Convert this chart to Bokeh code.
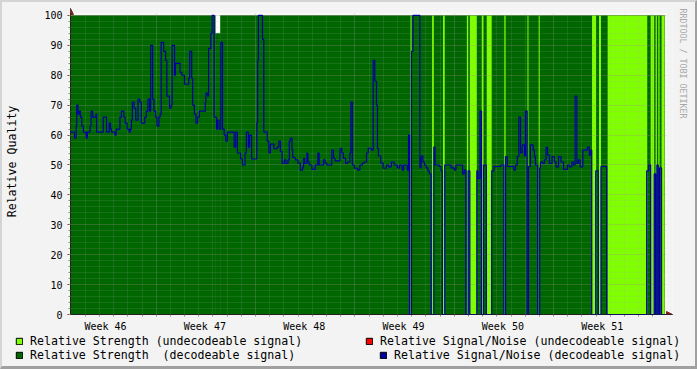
from bokeh.plotting import figure
from bokeh.layouts import column, row
from bokeh.models import (FixedTicker, Legend, LegendItem, Title,
                          Arrow, NormalHead, Range1d)
from bokeh.embed import file_html
from bokeh.resources import INLINE

# ---- time axis (days from the left edge of the graph) ----
week_labels = ["Week 46", "Week 47", "Week 48", "Week 49", "Week 50", "Week 51"]
week_label_day = [2.47, 9.47, 16.47, 23.47, 30.47, 37.47]
week_start_day = [6.04, 13.04, 20.04, 27.04, 34.04, 41.04]
day_ticks = [1.04, 2.04, 3.04, 4.04, 5.04, 6.04, 7.04, 8.04, 9.04, 10.04, 11.04,
             12.04, 13.04, 14.04, 15.04, 16.04, 17.04, 18.04, 19.04, 20.04, 21.04,
             22.04, 23.04, 24.04, 25.04, 26.04, 27.04, 28.04, 29.04, 30.04, 31.04,
             32.04, 33.04, 34.04, 35.04, 36.04, 37.04, 38.04, 39.04, 40.04, 41.04]
t_end = 41.86

y_major = [0, 10, 20, 30, 40, 50, 60, 70, 80, 90, 100]
y_minor = [0, 2, 4, 6, 8, 10, 12, 14, 16, 18, 20, 22, 24, 26, 28, 30, 32, 34, 36, 38,
           40, 42, 44, 46, 48, 50, 52, 54, 56, 58, 60, 62, 64, 66, 68, 70, 72, 74, 76,
           78, 80, 82, 84, 86, 88, 90, 92, 94, 96, 98, 100]
y_top = 100

# ---- Relative Strength (decodeable signal): level steps ----
strength_t = [0.0, 10.20, 10.57]
strength_v = [100, 94, 100]

# ---- Relative Strength (undecodeable signal): intervals ----
und_start = [23.96, 25.48, 26.25, 27.93, 28.14, 28.98, 29.33, 30.57, 32.20, 32.99,
             36.75, 37.24, 37.85, 40.88, 41.23, 41.42, 41.65]
und_end = [24.03, 25.60, 26.37, 28.02, 28.63, 29.10, 29.68, 30.66, 32.27, 33.06,
           37.03, 37.38, 40.64, 41.13, 41.32, 41.51, 41.86]
und_strength = [100, 100, 100, 100, 100, 100, 100, 100, 100, 100,
                100, 100, 100, 100, 100, 100, 100]

# ---- Relative Signal/Noise (decodeable signal): step changes ----
sn_t = [0.00, 0.28, 0.40, 0.44, 0.53, 0.63, 0.70, 0.79, 0.91, 1.10, 1.19, 1.38, 1.45,
        1.56, 1.80, 1.84, 2.31, 2.54, 2.73, 2.82, 2.89, 3.13, 3.22, 3.48, 3.59, 3.76,
        3.85, 3.99, 4.13, 4.22, 4.29, 4.36, 4.48, 4.60, 4.76, 4.88, 4.99, 5.23, 5.34,
        5.46, 5.58, 5.65, 5.78, 5.88, 6.00, 6.09, 6.23, 6.32, 6.39, 6.56, 6.70, 6.79,
        6.98, 7.09, 7.16, 7.33, 7.39, 7.72, 7.84, 8.03, 8.33, 8.40, 8.54, 8.61, 8.73,
        8.84, 8.96, 9.08, 9.50, 9.54, 9.66, 9.73, 9.89, 9.98, 10.12, 10.29, 10.36,
        10.47, 10.59, 10.71, 10.83, 10.94, 11.06, 11.53, 11.64, 11.76, 11.99, 12.11,
        12.30, 12.39, 12.53, 12.62, 12.76, 13.13, 13.19, 13.24, 13.53, 13.62, 13.86,
        13.98, 14.09, 14.33, 14.56, 14.68, 14.79, 14.91, 15.07, 15.19, 15.33, 15.42,
        15.49, 15.61, 15.66, 15.84, 16.03, 16.19, 16.36, 16.43, 16.50, 16.66, 16.73,
        16.82, 17.01, 17.24, 17.43, 17.52, 17.83, 17.94, 18.06, 18.41, 18.53, 18.64,
        18.99, 19.11, 19.23, 19.39, 19.53, 19.69, 19.76, 19.86, 20.00, 20.23, 20.39,
        20.56, 20.70, 20.86, 20.98, 21.21, 21.33, 21.44, 21.56, 21.63, 21.70, 21.86,
        22.03, 22.26, 22.42, 22.61, 22.80, 23.03, 23.19, 23.36, 23.47, 23.73, 23.82,
        23.89, 24.03, 24.13, 24.62, 24.71, 24.83, 24.94, 25.06, 25.18, 25.29, 25.41,
        25.60, 25.69, 25.99, 26.11, 26.20, 26.37, 26.81, 27.04, 27.16, 27.63, 27.74,
        27.86, 28.02, 28.14, 28.63, 28.72, 28.86, 28.96, 29.10, 29.30, 29.68, 29.84,
        30.31, 30.54, 30.66, 30.78, 31.24, 31.36, 31.48, 31.59, 31.71, 31.83, 31.99,
        32.06, 32.18, 32.27, 32.41, 32.60, 32.69, 32.76, 32.92, 33.06, 33.11, 33.27,
        33.39, 33.51, 33.62, 33.74, 33.93, 34.09, 34.21, 34.39, 34.56, 34.74, 35.02,
        35.16, 35.33, 35.44, 35.56, 35.68, 35.79, 35.91, 36.10, 36.42, 36.56, 36.66,
        36.73, 37.01, 37.19, 37.38, 37.78, 40.60, 40.74, 40.88, 41.13, 41.23, 41.32,
        41.42, 41.51, 41.65]
sn_v = [61, 59, 63, 70, 67, 68, 66, 63, 61, 59, 61, 63, 68,
        66, 67, 61, 66, 61, 64, 62, 61, 60, 62, 66, 68, 66,
        64, 62, 61, 62, 65, 71, 69, 65, 72, 71, 64, 66, 68,
        72, 68, 90, 72, 68, 66, 63, 66, 67, 91, 88, 85, 73,
        69, 70, 90, 80, 84, 81, 80, 77, 79, 88, 79, 70, 67,
        64, 66, 68, 71, 74, 73, 89, 94, 100, 66, 62, 65,
        62, 91, 62, 60, 58, 61, 56, 61, 54, 52, 50,
        54, 61, 56, 60, 52, 64, 85, 100, 92, 61, 58,
        54, 57, 55.5, 56, 58, 54.5, 50.5, 51.7, 50.5, 51.7, 58,
        59, 55, 52.5, 51.7, 50.6, 48.3, 49.4, 52.2, 50.5, 54, 51,
        50, 48.5, 50, 54, 50, 51.7, 50.6, 50, 55, 52.2, 51.4,
        55.6, 54, 52.2, 50.5, 51, 54, 71, 50, 48.9, 48.3, 50,
        50.6, 51, 54, 55.6, 55, 85, 78, 70, 55.6, 53, 50.6,
        48.9, 50, 49.4, 51, 50, 49, 50, 48.3, 50, 48.3, 60,
        0, 88, 100, 49, 53, 51, 50, 49, 48, 47, 0,
        56, 50, 49.5, 48, 0, 50, 49, 48.3, 50, 47, 48.3,
        0, 48, 0, 48, 45.5, 68, 0, 50, 0, 48, 49.5,
        50, 0, 52.8, 49.5, 48.3, 50, 52.8, 66, 54, 56.7, 53,
        68, 0, 49.5, 56.7, 55, 52.8, 50, 0, 49, 51, 50.5,
        51.7, 55.9, 53.3, 50.5, 52.8, 51, 49.4, 52.8, 51, 48.5, 50,
        49.4, 51, 50, 73, 50.5, 51.7, 49.4, 55, 56, 53.3, 55,
        0, 48, 0, 49.5, 0, 48, 50, 0, 47, 0, 50,
        0, 49, 0]

legend_labels = ["Relative Strength (undecodeable signal)",
                 "Relative Strength  (decodeable signal)",
                 "Relative Signal/Noise (undecodeable signal)",
                 "Relative Signal/Noise (decodeable signal)"]

DARK = "#006600"
LIGHT = "#7FFF00"
BLUE = "#0000A0"
RED = "#FF0000"
BG = "#F3F3F3"
FONT = "DejaVu Sans Mono"
ARROW_C = "#7F1D1D"
NAN = float("nan")

# 0.07 day and 1/3 unit per pixel; frame extended a few px for the axis arrows
x_hi = 42.42
y_hi = 102.33
px_x = 0.07
px_y = 1.0 / 3.0

p = figure(width=693, height=332, x_range=Range1d(0, x_hi), y_range=Range1d(0, y_hi),
           output_backend="svg", toolbar_location=None, tools="",
           min_border_left=65, min_border_right=22, min_border_top=6,
           min_border_bottom=19, background_fill_color="white",
           border_fill_color=BG, outline_line_color=None)

# strength areas (thin same-colour outline hides anti-aliasing seams)
s_right = strength_t[1:] + [t_end]
p.quad(left=strength_t, right=s_right, bottom=0, top=strength_v,
       fill_color=DARK, line_color=DARK, line_width=0.6)
p.quad(left=und_start, right=und_end, bottom=0, top=und_strength,
       fill_color=LIGHT, line_color=None)

# signal/noise line
sn = p.step(x=sn_t + [t_end], y=sn_v + [sn_v[-1]], mode="after",
            line_color=BLUE, line_width=1.2)
sn.level = "annotation"

# grids on top of areas
p.xgrid.ticker = FixedTicker(ticks=week_start_day, minor_ticks=day_ticks)
p.ygrid.ticker = FixedTicker(ticks=y_major, minor_ticks=y_minor)
for g in (p.xgrid, p.ygrid):
    g.level = "guide"
    g.grid_line_color = "#A87878"
    g.grid_line_alpha = 0.35
    g.grid_line_dash = "1 1"
    g.minor_grid_line_color = "#A8A8A8"
    g.minor_grid_line_alpha = 0.3
    g.minor_grid_line_dash = "1 1"

# masks: grid only reaches 2 px past the graph area (like rrdtool's stubs)
m1 = p.quad(left=[0], right=[x_hi], bottom=[y_top + 2 * px_y], top=[y_hi],
            fill_color=BG, line_color=None)
m2 = p.quad(left=[t_end + 2 * px_x], right=[x_hi], bottom=[0.4], top=[y_hi],
            fill_color=BG, line_color=None)
m1.level = "annotation"
m2.level = "annotation"

# x axis
xa = p.xaxis[0]
xa.ticker = FixedTicker(ticks=week_label_day, minor_ticks=day_ticks)
xa.major_label_overrides = {d: lab for d, lab in zip(week_label_day, week_labels)}
xa.major_tick_line_color = None
xa.major_tick_out = 2
xa.major_tick_in = 0
xa.minor_tick_out = 2
xa.minor_tick_in = 0
xa.minor_tick_line_color = "#8F8F8F"
xa.axis_line_color = "#202020"
xa.major_label_standoff = 4
xa.major_label_text_font = FONT
xa.major_label_text_font_size = "10px"
xa.major_label_text_color = "black"

# y axis
ya = p.yaxis[0]
ya.ticker = FixedTicker(ticks=y_major, minor_ticks=y_minor)
ya.major_tick_out = 3
ya.major_tick_in = 0
ya.minor_tick_out = 2
ya.minor_tick_in = 0
ya.major_tick_line_color = "#821E1E"
ya.minor_tick_line_color = "#8F8F8F"
ya.axis_line_color = "#202020"
ya.major_label_standoff = 5
ya.major_label_text_font = FONT
ya.major_label_text_font_size = "10px"
ya.major_label_text_color = "black"
ya.axis_label = "Relative Quality"
ya.axis_label_text_font = FONT
ya.axis_label_text_font_size = "11.6px"
ya.axis_label_text_font_style = "normal"
ya.axis_label_text_color = "black"
ya.axis_label_standoff = 22

# axis arrows
p.add_layout(Arrow(end=NormalHead(size=6, fill_color=ARROW_C, line_color=ARROW_C),
                   x_start=0, y_start=0, x_end=0, y_end=y_hi,
                   line_color="#202020", line_width=1))
p.add_layout(Arrow(end=NormalHead(size=6, fill_color=ARROW_C, line_color=ARROW_C),
                   x_start=0, y_start=0, x_end=x_hi, y_end=0,
                   line_color="#202020", line_width=1))

# watermark on the right
p.add_layout(Title(text="RRDTOOL / TOBI OETIKER", align="left", text_font=FONT,
                   text_font_size="8.3px", text_font_style="normal",
                   text_color="#A8A8A8", standoff=11), "right")

# ---- legend strip ----
lf = figure(width=693, height=32, x_range=Range1d(0, 693), y_range=Range1d(0, 32),
            output_backend="svg", toolbar_location=None, tools="", min_border=0,
            x_axis_location=None, y_axis_location=None,
            background_fill_color=BG, border_fill_color=BG, outline_line_color=None)
lf.xgrid.visible = False
lf.ygrid.visible = False

d1 = lf.quad(left=[NAN], right=[NAN], top=[NAN], bottom=[NAN], fill_color=LIGHT, line_color="black")
d2 = lf.quad(left=[NAN], right=[NAN], top=[NAN], bottom=[NAN], fill_color=DARK, line_color="black")
d3 = lf.quad(left=[NAN], right=[NAN], top=[NAN], bottom=[NAN], fill_color=RED, line_color="black")
d4 = lf.quad(left=[NAN], right=[NAN], top=[NAN], bottom=[NAN], fill_color=BLUE, line_color="black")


def add_legend(label, rend, loc):
    lg = Legend(items=[LegendItem(label=label, renderers=[rend])], location=loc,
                border_line_color=None, background_fill_alpha=0, padding=0, margin=0,
                spacing=0, glyph_width=8, glyph_height=8, label_standoff=7,
                label_height=8, label_text_font=FONT, label_text_font_size="11.6px",
                label_text_color="black")
    lf.add_layout(lg)


add_legend(legend_labels[0], d1, (13, 18))
add_legend(legend_labels[1], d2, (13, 4))
add_legend(legend_labels[2], d3, (363, 18))
add_legend(legend_labels[3], d4, (377, 4))

layout = column(p, row(lf), spacing=0)
layout.styles = {"border-style": "solid", "border-width": "2px 2px 3px 2px",
                 "border-color": "#D4D4D4 #A0A0A0 #A0A0A0 #D4D4D4",
                 "background-color": BG}
open("out.html", "w").write(file_html(layout, INLINE))
